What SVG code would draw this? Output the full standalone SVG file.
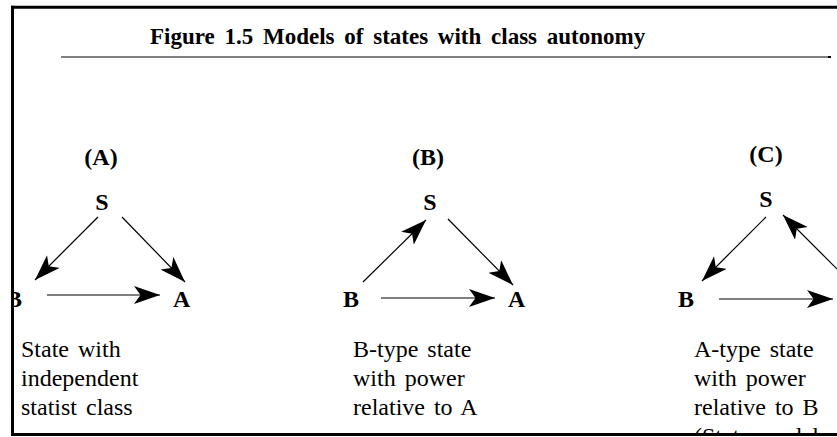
<svg xmlns="http://www.w3.org/2000/svg" width="837" height="437" viewBox="0 0 837 437">
<style>
text{font-family:"Liberation Serif","Times New Roman",serif;fill:#000}
.title{font-size:23px;font-weight:bold;word-spacing:4px}
.lab{font-size:24px;font-weight:bold;text-anchor:middle}
.node{font-size:24px;font-weight:bold}
.body{font-size:24px;word-spacing:3px}
.c{stroke:#000;stroke-width:1.2;fill:none;marker-end:url(#ah)}
</style>
<defs>
<marker id="ah" markerUnits="userSpaceOnUse" markerWidth="28" markerHeight="20" refX="26" refY="9" orient="auto" viewBox="0 0 28 20">
<path d="M0,0 L26,9 L0,18 L6.5,9 Z" fill="#000"/>
</marker>
<clipPath id="inner"><rect x="14" y="9" width="823" height="424"/></clipPath>
</defs>
<rect x="0" y="0" width="837" height="437" fill="#fff"/>
<g id="title">
<text class="title" x="150" y="44">Figure 1.5 Models of states with class autonomy</text>
<line x1="61" y1="57" x2="830" y2="57" stroke="#808080" stroke-width="2"/>
<rect x="828" y="56" width="3" height="2" fill="#000"/>
</g>
<g clip-path="url(#inner)">
<g id="panelA">
<text class="lab" x="101" y="165">(A)</text>
<g id="A-S"><text class="node" x="102" y="210" text-anchor="middle">S</text></g>
<g id="A-B"><text class="node" x="6" y="307">B</text></g>
<g id="A-A"><text class="node" x="173" y="307">A</text></g>
</g>
<g id="panelB">
<text class="lab" x="428" y="165">(B)</text>
<g id="B-S"><text class="node" x="430" y="210" text-anchor="middle">S</text></g>
<g id="B-B"><text class="node" x="343" y="307">B</text></g>
<g id="B-A"><text class="node" x="508" y="307">A</text></g>
</g>
<g id="panelC">
<text class="lab" x="766" y="162">(C)</text>
<g id="C-S"><text class="node" x="766" y="207" text-anchor="middle">S</text></g>
<g id="C-B"><text class="node" x="678" y="307">B</text></g>
</g>
<g id="connectors">
<line class="c" x1="98" y1="217" x2="35" y2="280"/>
<line class="c" x1="122" y1="217" x2="185" y2="282"/>
<line class="c" x1="47" y1="295" x2="160" y2="295"/>
<line class="c" x1="363" y1="282" x2="426" y2="220"/>
<line class="c" x1="448" y1="219" x2="513" y2="285"/>
<line class="c" x1="381" y1="298" x2="495" y2="298"/>
<line class="c" x1="766" y1="217" x2="702" y2="281"/>
<line class="c" x1="841" y1="273" x2="783" y2="215"/>
<line class="c" x1="719" y1="299" x2="833" y2="299" stroke="#555" stroke-width="1.6"/>
</g>
<g id="captions">
<text class="body" x="21" y="357">State with</text>
<text class="body" x="21" y="386">independent</text>
<text class="body" x="21" y="415">statist class</text>
<text class="body" x="353" y="357">B-type state</text>
<text class="body" x="353" y="386">with power</text>
<text class="body" x="353" y="415">relative to A</text>
<text class="body" x="694" y="357">A-type state</text>
<text class="body" x="694" y="386">with power</text>
<text class="body" x="694" y="415">relative to B</text>
<text class="body" x="694" y="444">(State model</text>
</g>
</g>
<g id="frame" stroke="#000" stroke-width="3">
<line x1="11" y1="7.3" x2="837" y2="7.3"/>
<line x1="12.5" y1="5.8" x2="12.5" y2="436"/>
<line x1="11" y1="434.5" x2="837" y2="434.5"/>
</g>
</svg>
